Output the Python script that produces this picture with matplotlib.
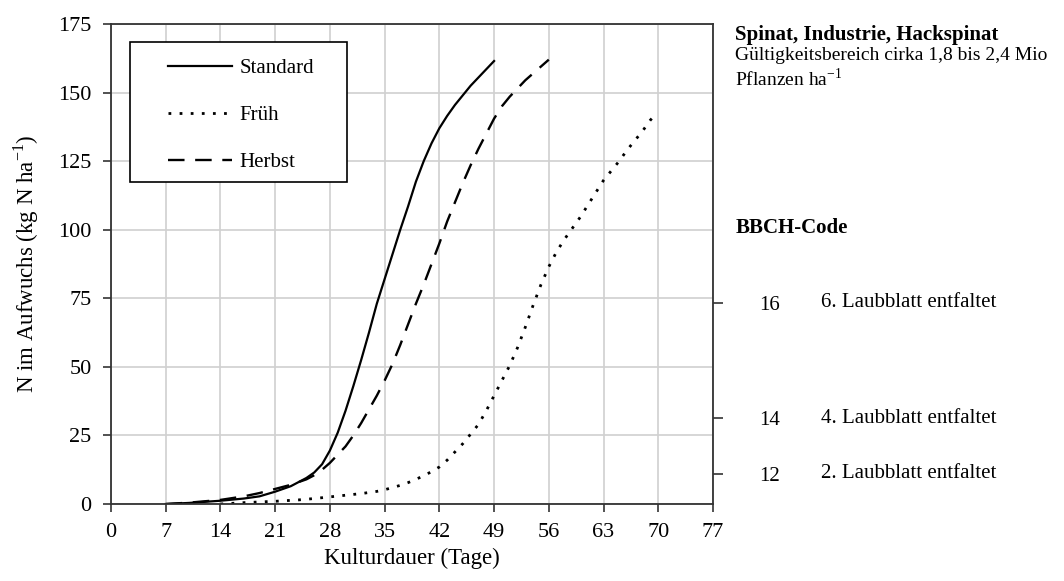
import numpy as np
import matplotlib
matplotlib.use("Agg")
import matplotlib.pyplot as plt
from matplotlib.patches import Rectangle

plt.rcParams['font.family'] = ['Liberation Serif', 'DejaVu Serif']
plt.rcParams['font.size'] = 15
plt.rcParams['mathtext.fontset'] = 'custom'
plt.rcParams['mathtext.rm'] = 'Liberation Serif'

# Kulturdauer (Tage) / N im Aufwuchs (kg N/ha)
standard_x = [7, 10, 14, 17, 19, 21, 23, 25, 26, 27, 28, 29, 30, 31, 32, 33, 34, 35,
              36, 37, 38, 39, 40, 41, 42, 43, 44, 45, 46, 47, 48, 49]
standard_y = [0, 0.4, 1.2, 2.0, 2.8, 4.5, 6.5, 9.5, 11.5, 14.5, 19.5, 26, 34, 43, 52.5, 62.5, 73, 82,
              91, 100, 108.5, 117.5, 125, 131.5, 137, 141.5, 145.5, 149, 152.5, 155.5, 158.5, 161.5]

frueh_x = [14, 17, 21, 24, 26, 28, 30, 32, 34, 35, 36, 37, 38, 39, 40, 41, 42, 43, 44, 45,
           46, 47, 48, 49, 50, 51, 52, 53, 54, 55, 56, 57, 58, 59, 60, 61, 62, 63, 64, 65,
           66, 67, 68, 69, 69.5]
frueh_y = [0, 0.5, 1, 1.5, 2, 2.6, 3.2, 3.8, 4.6, 5.2, 6, 6.8, 7.8, 9, 10.3, 11.8, 13.5, 16, 19, 22,
           25.5, 29, 34, 39.5, 45, 50.5, 57, 64.5, 72.5, 80, 86.5, 92, 96.5, 100.5, 104.5, 109, 113.5, 118, 121.5, 125,
           129, 132.5, 136, 140, 141.5]

herbst_x = [7, 10, 14, 17, 19, 21, 23, 25, 26, 27, 28, 29, 30, 31, 32, 33, 34, 35, 36, 37,
            38, 39, 40, 41, 42, 43, 44, 45, 46, 47, 48, 49, 50, 51, 52, 53, 54, 55, 56]
herbst_y = [0, 0.5, 1.5, 2.8, 4, 5.5, 7, 9, 10.5, 12.5, 15, 18, 21, 25, 29.5, 34.5, 39.5, 45, 51, 58,
            65.5, 73, 80, 87.5, 95, 103, 110, 117, 123.5, 129.5, 135, 140.5, 145, 148.5, 151.5, 154.5, 157, 159.5, 162]

x_ticks = list(range(0, 78, 7))
y_ticks = list(range(0, 176, 25))

bbch_codes = ["12", "14", "16"]
bbch_pos = [11, 31.3, 73.3]
bbch_text = ["2. Laubblatt entfaltet", "4. Laubblatt entfaltet", "6. Laubblatt entfaltet"]

fig = plt.figure(figsize=(10.64, 5.81), dpi=100)
ax = fig.add_axes([0.1043, 0.1325, 0.5658, 0.8262])

ax.plot(standard_x, standard_y, color='black', lw=1.6, ls='-', label='Standard')
ax.plot(frueh_x, frueh_y, color='black', lw=2.0, ls=(0, (1, 3)), label='Früh')
ax.plot(herbst_x, herbst_y, color='black', lw=1.7, ls=(0, (7, 4.5)), label='Herbst')

ax.set_xlim(0, 77)
ax.set_ylim(0, 175)
ax.set_xticks(x_ticks)
ax.set_yticks(y_ticks)
ax.grid(True, color='#d0d0d0', lw=1.2)
ax.set_axisbelow(True)
for s in ax.spines.values():
    s.set_color('#333333')
    s.set_linewidth(1.3)
ax.tick_params(direction='out', length=6, width=1.2, color='#333333', pad=8, labelsize=16)

ax.set_xlabel('Kulturdauer (Tage)', fontsize=16.5, labelpad=4)
ax.set_ylabel(r'N im Aufwuchs (kg N ha$^{\mathregular{-1}}$)', fontsize=16.5, labelpad=12)

# legend frame drawn separately to get the wide padding of the original
ax.add_patch(Rectangle((0.0316, 0.671), 0.3604, 0.2915, transform=ax.transAxes,
                       facecolor='white', edgecolor='black', lw=1.2, zorder=4))
leg = ax.legend(loc='upper left', bbox_to_anchor=(0.077, 0.95), handlelength=3.1,
                handletextpad=0.35, labelspacing=1.32, borderpad=0.5, frameon=False,
                borderaxespad=0)
leg.set_zorder(5)

ax2 = ax.twinx()
ax2.set_ylim(0, 175)
ax2.set_yticks(bbch_pos)
ax2.set_yticklabels(bbch_codes)
ax2.tick_params(direction='out', length=7, width=1.2, color='#333333', pad=26)
for s in ax2.spines.values():
    s.set_visible(False)

for yv, txt in zip(bbch_pos, bbch_text):
    ax2.text(1.18, yv, txt, transform=ax2.get_yaxis_transform(), va='center', ha='left')

fig.text(0.691, 0.94, 'Spinat, Industrie, Hackspinat', fontweight='bold', va='center')
fig.text(0.691, 0.905, 'Gültigkeitsbereich cirka 1,8 bis 2,4 Mio', fontsize=14, va='center')
fig.text(0.691, 0.865, r'Pflanzen ha$^{\mathregular{-1}}$', fontsize=14, va='center')
fig.text(0.691, 0.607, 'BBCH-Code', fontweight='bold', va='center')

fig.savefig('out.png', dpi=100)
